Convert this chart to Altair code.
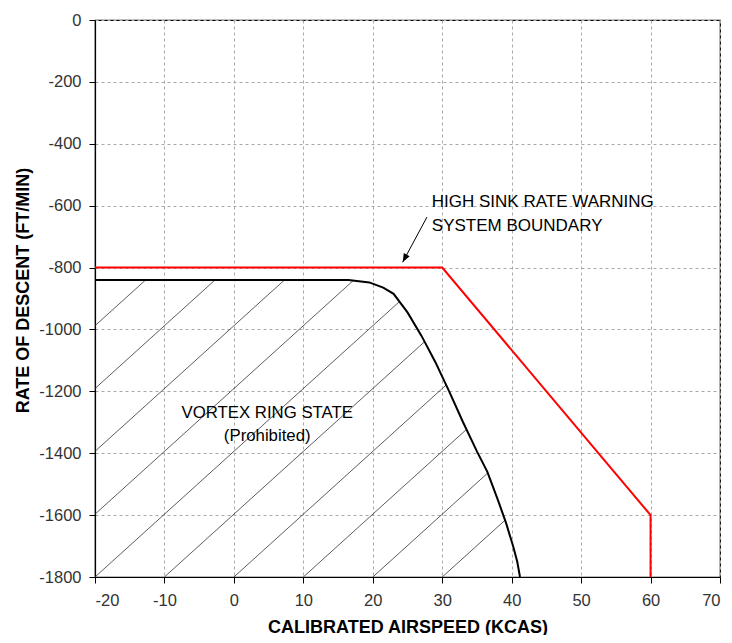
import altair as alt
import numpy as np
import pandas as pd

# ---- data ----
x_ticks = [-20, -10, 0, 10, 20, 30, 40, 50, 60, 70]
y_ticks = [0, -200, -400, -600, -800, -1000, -1200, -1400, -1600, -1800]

# High sink rate warning boundary (red)
warn_x = [-20, 30, 60, 60]
warn_y = [-800, -800, -1600, -1800]

# Vortex ring state boundary (black)
vrs_x = [-20, 16.5, 19.5, 21.5, 23, 25, 27, 29, 31, 33, 35, 36.5, 38, 39.2, 40.2, 40.8, 41.2]
vrs_y = [-840, -840, -848, -865, -885, -945, -1020, -1105, -1200, -1300, -1394,
         -1460, -1550, -1626, -1700, -1750, -1800]

# Hatch lines: bottom-axis intercepts and slope (ft/min per kt)
hatch_x0 = [-60, -50, -40, -30, -20, -10, 0, 10, 20, 30]
hatch_slope = 20.3

# Arrow (start -> tip)
arrow_start = (27.8, -637)
arrow_tip = (24.3, -783)

warn_text = ["HIGH SINK RATE WARNING", "SYSTEM BOUNDARY"]
warn_text_x = [28.5, 28.5]
warn_text_y = [-605, -681]

vrs_text = ["VORTEX RING STATE", "(Prohibited)"]
vrs_text_x = [4.8, 4.8]
vrs_text_y = [-1286, -1360]

# ---- build hatch segments clipped by the VRS boundary ----
vx = np.array(vrs_x, dtype=float)
vy = np.array(vrs_y, dtype=float)
rows = []
for x0 in hatch_x0:
    if x0 >= -20:
        sx, sy = float(x0), -1800.0
    else:
        sx, sy = -20.0, -1800.0 + hatch_slope * (-20 - x0)
    xs = np.linspace(sx, vx[-1], 4000)
    hy = -1800.0 + hatch_slope * (xs - x0)
    cy = np.interp(xs, vx, vy)
    idx = np.where(hy >= cy)[0]
    if len(idx) == 0:
        continue
    i = idx[0]
    ex, ey = xs[i], hy[i]
    if ex <= sx:
        continue
    rows.append({"x": sx, "y": sy, "x2": ex, "y2": ey})
hatch_df = pd.DataFrame(rows)

warn_df = pd.DataFrame({"x": warn_x, "y": warn_y, "o": range(len(warn_x))})
vrs_df = pd.DataFrame({"x": vrs_x, "y": vrs_y, "o": range(len(vrs_x))})
arrow_df = pd.DataFrame({"x": [arrow_start[0]], "y": [arrow_start[1]],
                         "x2": [arrow_tip[0]], "y2": [arrow_tip[1]]})
tip_df = pd.DataFrame({"x": [arrow_tip[0]], "y": [arrow_tip[1]]})
wt_df = pd.DataFrame({"x": warn_text_x, "y": warn_text_y, "t": warn_text})
vt_df = pd.DataFrame({"x": vrs_text_x, "y": vrs_text_y, "t": vrs_text})

FONT = "Liberation Sans"

xscale = alt.Scale(domain=[-20, 70], nice=False, zero=False)
yscale = alt.Scale(domain=[-1800, 0], nice=False, zero=False)

xaxis = alt.Axis(values=x_ticks, title="CALIBRATED AIRSPEED (KCAS)", grid=True,
                 labelExpr="'' + datum.value",
                 gridDash=[3, 3], gridColor="#a8a8a8", gridWidth=1,
                 domainColor="black", domainWidth=1.2, tickColor="black", tickSize=6,
                 labelFont=FONT, labelFontSize=16.5, labelColor="#333333", labelPadding=9,
                 titleFont=FONT, titleFontSize=18, titleFontWeight="bold", titleColor="black",
                 titleY=55, titleBaseline="alphabetic")
yaxis = alt.Axis(values=y_ticks, title="RATE OF DESCENT (FT/MIN)", grid=True,
                 labelExpr="'' + datum.value",
                 gridDash=[3, 3], gridColor="#a8a8a8", gridWidth=1,
                 domainColor="black", domainWidth=1.2, tickColor="black", tickSize=6,
                 labelFont=FONT, labelFontSize=16.5, labelColor="#333333", labelPadding=8,
                 titleFont=FONT, titleFontSize=18, titleFontWeight="bold", titleColor="black",
                 titleX=-67, titleY=270, titleBaseline="alphabetic", titleAngle=-90)

hatch = alt.Chart(hatch_df).mark_rule(color="#333333", strokeWidth=0.8).encode(
    x=alt.X("x:Q", scale=xscale, axis=xaxis),
    y=alt.Y("y:Q", scale=yscale, axis=yaxis),
    x2="x2:Q", y2="y2:Q")

vrs = alt.Chart(vrs_df).mark_line(color="black", strokeWidth=2).encode(
    x=alt.X("x:Q", scale=xscale), y=alt.Y("y:Q", scale=yscale), order="o:Q")

warn = alt.Chart(warn_df).mark_line(color="#ff0000", strokeWidth=2).encode(
    x=alt.X("x:Q", scale=xscale), y=alt.Y("y:Q", scale=yscale), order="o:Q")

arrow = alt.Chart(arrow_df).mark_rule(color="black", strokeWidth=1).encode(
    x="x:Q", y="y:Q", x2="x2:Q", y2="y2:Q")

tip = alt.Chart(tip_df).mark_point(shape="M0,0L0.38,1L-0.38,1Z", filled=True, color="black",
                                   opacity=1, size=300, angle=208).encode(x="x:Q", y="y:Q")

wtext = alt.Chart(wt_df).mark_text(align="left", baseline="alphabetic", font=FONT,
                                   fontSize=17, color="black").encode(
    x="x:Q", y="y:Q", text="t:N")

vtext = alt.Chart(vt_df).mark_text(align="center", baseline="alphabetic", font=FONT,
                                   fontSize=16.8, color="black").encode(
    x="x:Q", y="y:Q", text="t:N")

chart = alt.layer(hatch, vrs, warn, arrow, tip, wtext, vtext).properties(
    width=625, height=557,
    autosize=alt.AutoSizeParams(type="none"),
    padding={"left": 87, "top": 12, "right": 4, "bottom": 58},
    background="white",
).configure_view(stroke="black", strokeWidth=1.2)

chart.save("out.html", embed_options={"renderer": "svg", "actions": False})
